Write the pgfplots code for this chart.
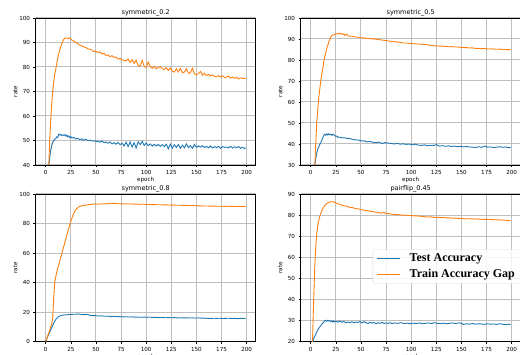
\documentclass[border=0pt]{standalone}
\usepackage{fontspec}
\setmainfont{DejaVu Sans}
\newfontfamily\legfont{Liberation Serif}
\usepackage{pgfplots}
\pgfplotsset{compat=1.18}
\definecolor{mplblue}{HTML}{1F77B4}
\definecolor{mplorange}{HTML}{FF7F0E}
\pgfplotsset{
  mpl/.style={
    scale only axis, width=220pt, height=147pt,
    xmin=-9.95, xmax=208.95,
    xtick={0,25,...,200},
    grid=major,
    grid style={line width=1pt, color=black!25},
    axis line style={line width=0.75pt},
    tick align=outside, tick pos=left,
    major tick length=2.2pt,
    every tick/.style={black, line width=0.6pt},
    /pgf/number format/assume math mode=true,
    tick label style={font=\fontsize{5.6}{6}\selectfont},
    xticklabel style={yshift=0.3pt},
    every axis title shift=0pt,
    title style={font=\fontsize{6.5}{7}\selectfont, at={(axis description cs:0.5,1.022)}, anchor=base},
    ylabel=rate, xlabel=epoch,
    label style={font=\fontsize{5.6}{6}\selectfont},
    ylabel style={at={(axis description cs:-0.092,0.5)}, anchor=center},
    xlabel style={at={(axis description cs:0.5,-0.102)}, anchor=center},
    every axis plot/.append style={line width=0.9pt, mark=none},
    legend image code/.code={\draw[#1] (0pt,0pt) -- (23pt,0pt);},
  }
}
\begin{document}
\begin{tikzpicture}
\useasboundingbox (0,0) rectangle (520pt,355pt);
\clip (0,0) rectangle (520pt,355pt);
% ---------- top-left ----------
\begin{axis}[mpl, at={(35.7pt,190pt)}, anchor=south west,
  ymin=40, ymax=100, ytick={40,50,...,100}, title={symmetric\_0.2}]
\addplot[mplblue] coordinates {(0,28)(1,32)(2,36)(3,39.5)(4,43)(5,46)(6,48)(7,49.2)(8,50)(9,50.5)(10,50.8)(11,51.5)(12,51.2)(13,52.6)(14,52.2)(15,52.5)(16,52.0)(17,52.3)(18,52.1)(19,52.4)(20,51.8)(21,52.2)(22,51.5)(23,51.9)(24,51.2)(25,51.6)(26,51.0)(28,51.3)(30,50.6)(32,50.9)(34,50.3)(36,50.7)(38,50.1)(40,50.5)(42,49.9)(44,50.2)(46,49.8)(48,49.9)(50,49.6)(52,49.7)(54,49.3)(56,49.8)(58,49.1)(60,49.4)(62,48.9)(64,49.4)(66,48.6)(68,49.1)(70,48.5)(72,49.2)(74,48.3)(76,48.9)(78,47.8)(80,49.3)(82,47.5)(84,49.4)(86,47.3)(88,49.1)(90,46.9)(92,49.5)(94,48.3)(96,49.6)(98,48.0)(100,49.0)(102,47.9)(104,48.6)(106,47.7)(108,48.5)(110,47.8)(112,48.4)(114,47.6)(116,48.3)(118,47.5)(120,48.5)(122,46.6)(124,48.6)(126,46.9)(128,48.3)(130,47.2)(132,48.4)(134,46.8)(136,48.1)(138,47.0)(140,48.6)(142,47.1)(144,47.9)(146,46.8)(148,48.4)(150,47.2)(152,47.8)(154,47.3)(156,47.9)(158,47.1)(160,47.6)(162,47.0)(164,47.8)(166,46.9)(168,47.5)(170,47.1)(172,47.6)(174,46.8)(176,47.5)(178,47.2)(180,47.3)(182,47.0)(184,47.6)(186,46.9)(188,47.4)(190,47.1)(192,47.5)(194,46.8)(196,47.3)(198,46.7)(199,47.0)};
\addplot[mplorange] coordinates {(0,22)(1,27)(2,33)(3,39)(4,50)(5,58)(6,65)(7,70)(8,74)(9,77)(10,79)(11,81.5)(12,83.5)(13,85.5)(14,87)(15,88.3)(16,89.5)(17,90.5)(18,91.3)(19,91.7)(20,91.8)(21,91.9)(22,91.6)(23,91.8)(24,91.9)(25,91.3)(26,91.0)(28,90.6)(30,90.0)(32,89.5)(34,88.9)(36,88.6)(38,88.2)(40,88.0)(42,87.4)(44,87.2)(46,86.9)(48,86.3)(50,86.4)(52,85.9)(54,86.2)(56,85.3)(58,85.6)(60,84.7)(62,84.9)(64,84.2)(66,84.6)(68,83.9)(70,84.1)(72,83.2)(74,83.5)(76,82.9)(78,82.7)(80,82.5)(82,83.3)(84,81.9)(86,83.0)(88,81.5)(90,82.8)(92,80.6)(94,80.4)(96,82.7)(98,80.3)(100,79.8)(102,82.1)(104,80.1)(106,79.5)(108,80.3)(110,79.3)(112,79.8)(114,80.1)(116,79.2)(118,79.0)(120,79.8)(122,78.6)(124,79.6)(126,78.3)(128,77.9)(130,79.3)(132,78.0)(134,79.4)(136,77.7)(138,77.9)(140,79.3)(142,77.4)(144,77.6)(146,79.5)(148,77.2)(150,76.9)(152,77.3)(154,78.2)(156,76.6)(158,77.4)(160,76.5)(162,77.0)(164,76.3)(166,76.8)(168,76.1)(170,76.0)(172,76.5)(174,75.9)(176,76.4)(178,75.7)(180,75.8)(182,76.3)(184,75.5)(186,75.9)(188,75.4)(190,75.8)(192,75.1)(194,75.6)(196,75.3)(198,75.3)(199,75.4)};
\end{axis}
% ---------- top-right ----------
\begin{axis}[mpl, at={(300.7pt,190pt)}, anchor=south west,
  ymin=30, ymax=100, ytick={30,40,...,100}, title={symmetric\_0.5}]
\addplot[mplblue] coordinates {(0,18)(1,21)(2,24)(3,27)(4,30)(5,33)(6,35.5)(7,37.5)(8,38.5)(9,39.8)(10,40.5)(11,41.8)(12,43.0)(13,44.0)(14,44.6)(15,44.2)(16,44.8)(17,44.3)(18,44.9)(19,44.4)(20,44.6)(21,44.1)(22,44.7)(23,44.3)(24,44.0)(25,43.6)(26,43.8)(27,43.2)(28,43.3)(30,43.1)(32,42.9)(34,43.0)(36,42.6)(38,42.7)(41,42.3)(44,42.0)(47,41.9)(50,41.5)(53,41.5)(56,41.0)(59,41.2)(62,40.8)(65,40.6)(68,40.9)(71,40.2)(74,40.7)(77,40.4)(80,40.3)(83,40.0)(86,40.3)(89,39.9)(92,40.1)(95,39.8)(98,40.0)(101,39.6)(104,39.9)(107,39.5)(110,39.3)(113,39.6)(116,39.2)(119,39.4)(122,39.3)(125,39.7)(128,39.0)(131,39.2)(134,38.9)(137,39.1)(140,38.8)(143,39.0)(146,38.7)(149,38.9)(152,38.6)(155,38.8)(158,38.6)(161,38.5)(164,38.3)(167,38.7)(170,38.4)(173,39.0)(176,38.5)(179,38.6)(182,38.3)(185,38.5)(188,38.7)(191,38.4)(194,38.6)(197,38.2)(199,38.4)};
\addplot[mplorange] coordinates {(0,10)(1,15)(2,20)(3,25)(4,29)(5,40)(6,50)(7,56)(8,62)(9,66)(10,70)(11,73)(12,76)(13,79)(14,81.5)(15,83.5)(16,85.5)(17,87)(18,88.5)(19,89.8)(20,90.8)(21,91.6)(22,91.9)(23,92.0)(24,92.1)(25,92.3)(26,92.5)(27,92.7)(28,92.6)(29,92.4)(30,92.8)(31,92.3)(32,92.1)(33,92.5)(34,91.7)(35,92.0)(36,92.3)(37,91.6)(38,91.4)(41,91.3)(44,91.0)(47,90.9)(50,90.6)(53,90.5)(56,90.3)(59,90.2)(62,90.0)(65,89.9)(68,89.7)(71,89.5)(74,89.3)(77,89.1)(80,88.9)(83,88.7)(86,88.6)(89,88.4)(92,88.1)(95,88.1)(98,87.9)(101,87.8)(104,87.7)(107,87.6)(110,87.5)(113,87.4)(116,87.3)(119,87.0)(122,86.8)(125,86.7)(128,86.6)(131,86.6)(134,86.5)(137,86.3)(140,86.4)(143,86.2)(146,86.2)(149,86.0)(152,85.9)(155,85.9)(158,85.7)(161,85.8)(164,85.5)(167,85.5)(170,85.4)(173,85.5)(176,85.2)(179,85.3)(182,85.2)(185,85.1)(188,85.2)(191,85.0)(194,85.0)(197,84.9)(199,85.0)};
\end{axis}
% ---------- bottom-left ----------
\begin{axis}[mpl, at={(35.7pt,13.3pt)}, anchor=south west, height=147.7pt,
  ymin=0, ymax=100, ytick={0,20,...,100}, title={symmetric\_0.8}]
\addplot[mplblue] coordinates {(0,0.5)(1,2)(2,3.5)(3,5)(4,6.5)(5,8)(6,9.5)(7,11)(8,12.5)(9,13.8)(10,15)(11,15.8)(12,16.5)(13,17)(14,17.4)(15,17.7)(16,17.9)(18,18.0)(20,18.2)(22,18.3)(24,18.4)(26,18.5)(28,18.6)(30,18.6)(32,18.8)(34,18.6)(36,18.5)(38,18.3)(40,18.5)(42,18.4)(44,17.8)(47,17.6)(50,17.6)(53,17.4)(56,17.5)(59,17.2)(62,17.3)(65,17.0)(68,17.1)(71,16.9)(74,17.0)(77,16.8)(80,16.9)(83,16.7)(86,16.8)(89,16.6)(92,16.7)(95,16.5)(98,16.7)(101,16.5)(104,16.6)(107,16.4)(110,16.5)(113,16.3)(116,16.4)(119,16.2)(122,16.3)(125,16.2)(128,16.3)(131,16.1)(134,16.2)(137,16.1)(140,16.2)(143,16.0)(146,16.1)(149,16.0)(152,16.1)(155,15.9)(158,16.0)(161,15.8)(164,15.7)(167,15.9)(170,15.8)(173,15.9)(176,15.7)(179,15.8)(182,15.9)(185,15.7)(188,15.8)(191,15.6)(194,15.8)(197,15.7)(199,15.8)};
\addplot[mplorange] coordinates {(0,0)(1,2)(2,4)(3,6)(4,8)(5,10)(6,12)(7,16)(8,30)(9,40)(10,44)(11,47)(12,50)(13,52)(14,54.5)(15,57)(16,59.5)(17,62)(18,64.5)(19,67)(20,69.5)(21,72)(22,74.5)(23,77)(24,79.5)(25,81.5)(26,83.5)(27,85.3)(28,87)(29,88.3)(30,89.4)(31,90.2)(32,90.8)(33,91.3)(34,91.6)(35,91.9)(36,92.0)(38,92.3)(40,92.5)(43,92.8)(46,93.0)(49,93.3)(52,93.1)(55,93.4)(58,93.2)(61,93.5)(64,93.4)(67,93.7)(70,93.6)(73,93.4)(76,93.3)(79,93.4)(82,93.2)(85,93.3)(88,93.1)(91,93.2)(94,93.0)(97,93.1)(100,92.9)(103,92.9)(106,92.8)(109,92.8)(112,92.7)(115,92.7)(118,92.6)(121,92.6)(124,92.5)(127,92.5)(130,92.4)(133,92.4)(136,92.3)(139,92.3)(142,92.2)(145,92.2)(148,92.1)(151,92.0)(154,92.0)(157,91.9)(160,91.9)(163,91.8)(166,91.8)(169,91.8)(172,91.7)(175,91.7)(178,91.6)(181,91.7)(184,91.6)(187,91.6)(190,91.5)(193,91.6)(196,91.5)(199,91.6)};
\end{axis}
% ---------- bottom-right ----------
\begin{axis}[mpl, at={(300.7pt,13.3pt)}, anchor=south west, height=147.7pt,
  ymin=20, ymax=90, ytick={20,30,...,90}, title={pairflip\_0.45},
  legend style={at={(axis description cs:0.327,0.624)}, anchor=north west,
    font=\legfont\bfseries\fontsize{12}{14}\selectfont,
    draw=black!15, rounded corners=2pt, fill=white, fill opacity=0.8, text opacity=1, draw opacity=1,
    inner xsep=4pt, inner ysep=2pt, row sep=2.5pt, column sep=7pt},
  legend cell align=left]
\addplot[mplblue] coordinates {(0,12)(1,16)(2,19.5)(3,21.5)(4,22.5)(5,23.5)(6,24.5)(7,25.5)(8,26.3)(9,27.0)(10,27.6)(11,28.2)(12,28.8)(13,29.3)(14,29.8)(15,30.1)(16,29.7)(17,30.2)(18,29.8)(19,30.0)(20,29.5)(21,29.9)(22,29.3)(23,29.8)(24,29.4)(25,29.7)(27,29.3)(29,29.8)(31,29.2)(33,29.6)(35,28.9)(37,29.3)(39,29.0)(41,29.4)(43,29.0)(45,29.3)(47,29.1)(49,29.6)(51,28.9)(53,29.5)(55,29.0)(57,28.6)(59,29.2)(61,28.8)(63,29.1)(65,28.5)(67,29.0)(69,28.7)(71,29.2)(73,28.6)(75,28.9)(77,28.7)(79,29.0)(81,28.6)(84,28.9)(87,28.7)(90,29.0)(93,28.6)(96,28.8)(99,28.5)(102,28.8)(105,28.6)(108,28.9)(111,28.5)(114,28.7)(117,28.9)(120,28.6)(123,29.0)(126,28.7)(129,28.6)(132,28.8)(135,28.5)(138,28.7)(141,28.9)(144,28.6)(147,28.9)(150,28.7)(152,28.2)(155,28.5)(158,28.3)(161,28.6)(164,28.3)(167,28.5)(170,28.4)(173,28.2)(176,28.5)(179,28.3)(182,28.4)(185,28.2)(188,28.5)(191,28.3)(194,28.1)(197,28.3)(199,28.0)};
\addlegendentry{Test Accuracy}
\addplot[mplorange] coordinates {(0,5)(1,12)(2,24)(3,40)(4,55)(5,65)(6,71)(7,75)(8,77.5)(9,79.3)(10,80.8)(11,82)(12,83)(13,83.8)(14,84.5)(15,85.0)(16,85.5)(17,85.8)(18,86.0)(19,86.2)(20,86.3)(21,86.3)(22,86.2)(23,86.3)(24,86.0)(25,85.8)(26,85.5)(28,85.2)(30,84.9)(32,84.6)(34,84.3)(36,84.2)(38,83.8)(40,83.6)(42,83.5)(44,83.2)(46,83.0)(48,82.9)(50,82.6)(53,82.3)(56,82.1)(59,81.9)(62,81.6)(65,81.4)(68,81.1)(71,80.9)(73,81.4)(75,80.6)(78,80.7)(81,80.4)(84,80.3)(87,80.2)(90,80.0)(93,80.0)(96,79.8)(99,79.8)(102,79.7)(105,79.6)(108,79.5)(111,79.4)(114,79.2)(117,79.1)(120,79.2)(123,78.9)(126,79.0)(129,78.8)(132,78.9)(135,78.7)(138,78.7)(141,78.5)(144,78.6)(147,78.4)(150,78.5)(153,78.2)(156,78.3)(159,78.2)(162,78.2)(165,78.1)(168,78.1)(171,78.0)(174,78.0)(177,77.9)(180,77.9)(183,77.8)(186,77.7)(189,77.7)(192,77.6)(195,77.5)(197,77.4)(199,77.3)};
\addlegendentry{Train Accuracy Gap}
\end{axis}
\end{tikzpicture}
\end{document}
